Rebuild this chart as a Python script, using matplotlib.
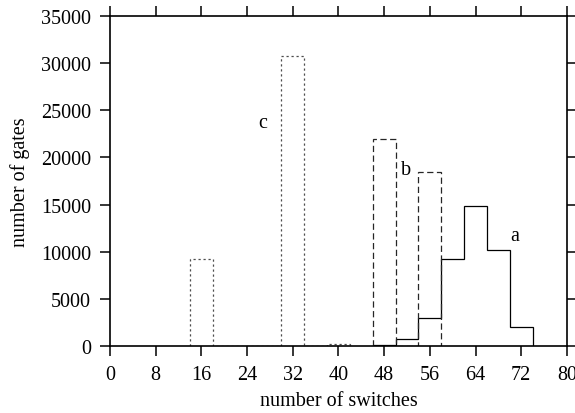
import matplotlib
matplotlib.use("Agg")
import matplotlib.pyplot as plt
import numpy as np

# bin centres (width 4) and counts for the three distributions
bin_width = 4
a_centres = [48, 52, 56, 60, 64, 68, 72]
a_counts = [100, 700, 3000, 9200, 14800, 10200, 2000]
b_centres = [48, 52, 56]
b_counts = [21900, 0, 18400]
c_centres = [16, 20, 24, 28, 32, 36, 40]
c_counts = [9200, 0, 0, 0, 30800, 0, 200]

x_ticks = list(range(0, 81, 8))
y_ticks = list(range(0, 35001, 5000))


def edges_for(centres):
    centres = np.asarray(centres, dtype=float)
    return np.append(centres - bin_width / 2, centres[-1] + bin_width / 2)


plt.rcParams['font.family'] = ['Liberation Serif', 'DejaVu Serif']
plt.rcParams['lines.scale_dashes'] = False

fig = plt.figure(figsize=(5.75, 4.14), dpi=100)
ax = fig.add_axes([0.191, 0.162, 0.795, 0.797])

ax.stairs(a_counts, edges_for(a_centres), color='black', linewidth=0.9)
ax.stairs(b_counts, edges_for(b_centres), color='0.15', linewidth=0.9,
          linestyle=(0, (4.5, 2.5)))
ax.stairs(c_counts, edges_for(c_centres), color='0.3', linewidth=0.9,
          linestyle=(0, (1.6, 2.0)))

fs = 14.5
ax.text(70.9, 11700, 'a', fontsize=fs, ha='center', va='center')
ax.text(51.9, 18750, 'b', fontsize=fs, ha='center', va='center')
ax.text(26.7, 23680, 'c', fontsize=fs, ha='center', va='center')

ax.set_xlim(0, 80)
ax.set_ylim(0, 35000)
ax.set_xticks(x_ticks)
ax.set_yticks(y_ticks)
ax.tick_params(direction='out', length=7, width=1.1, labelsize=fs,
               top=True, right=True)
ax.tick_params(axis='x', pad=7)
ax.tick_params(axis='y', pad=6.5)
for s in ax.spines.values():
    s.set_linewidth(1.2)

ax.set_xlabel('number of switches', fontsize=fs, labelpad=5)
ax.set_ylabel('number of gates', fontsize=fs, labelpad=8)

fig.savefig('out.png', dpi=100)
